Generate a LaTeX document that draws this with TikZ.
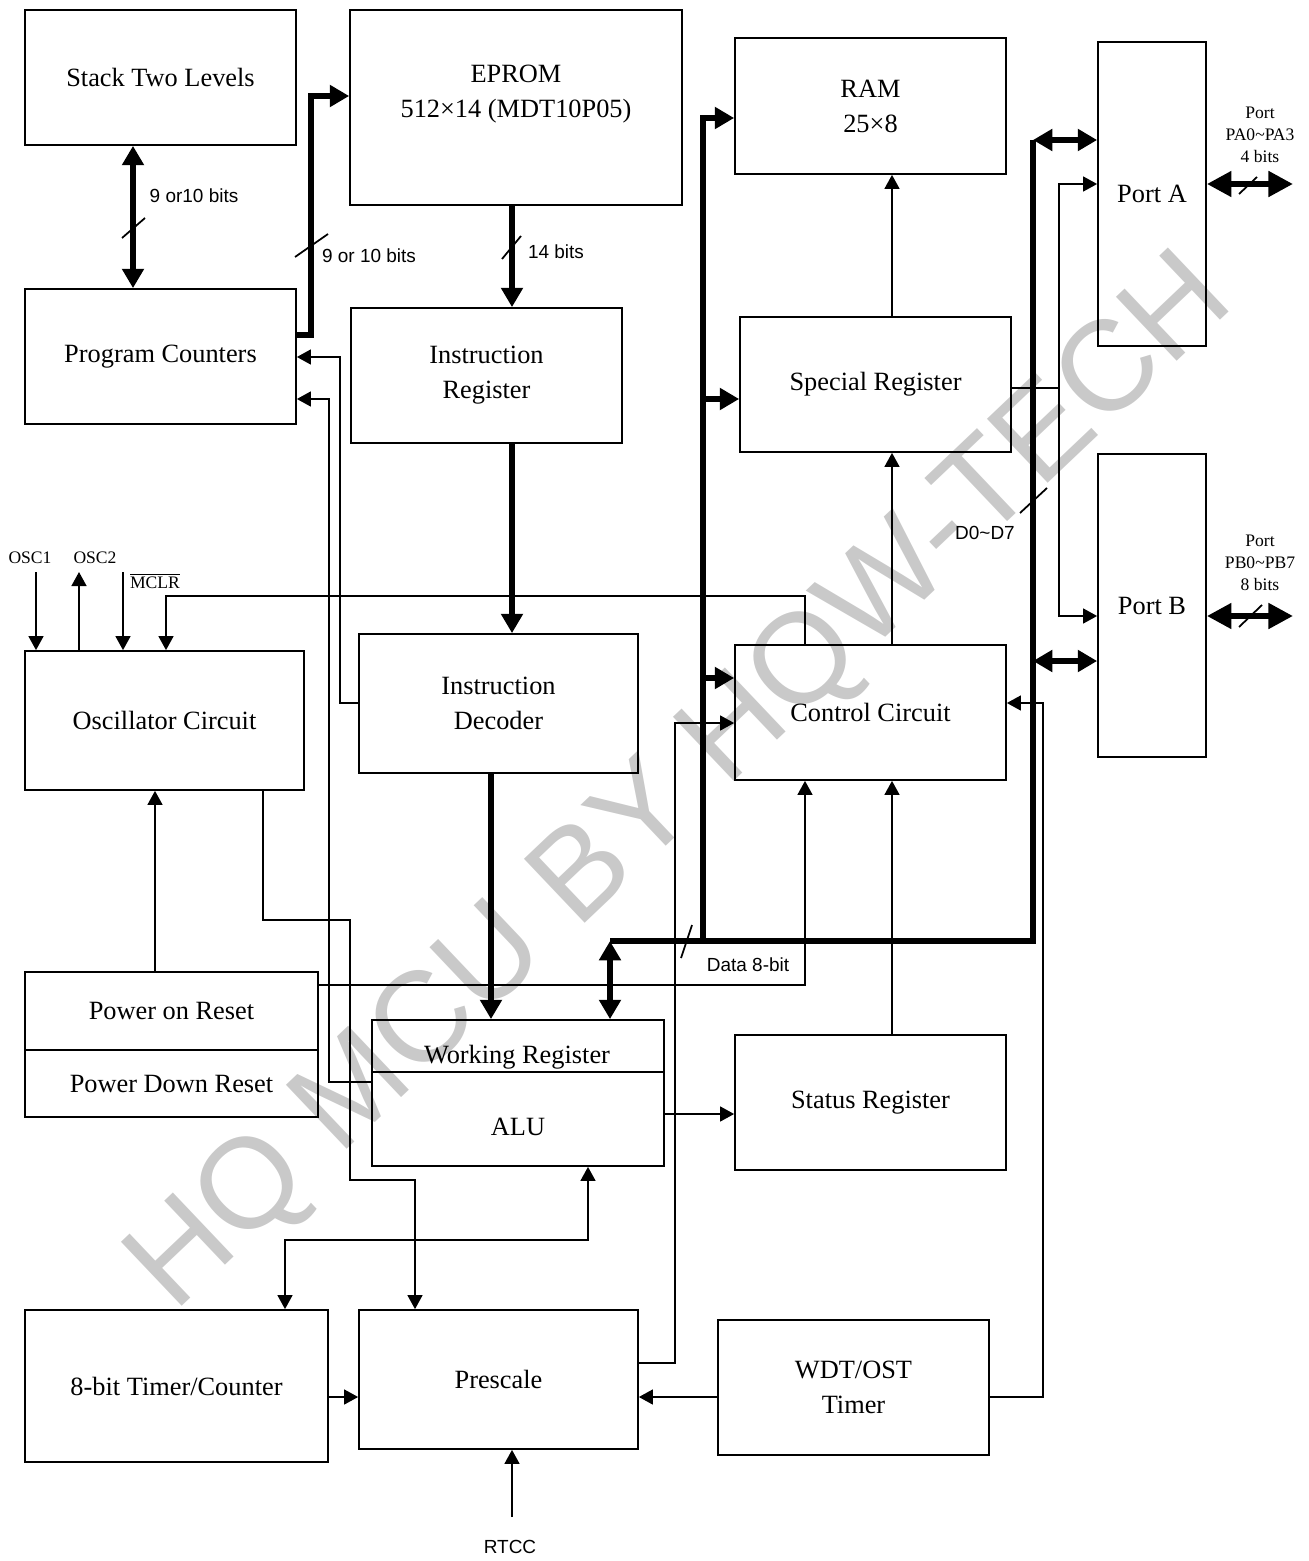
\documentclass[tikz,border=0pt]{standalone}
\usepackage{fontspec}
\setmainfont{Liberation Serif}
\newfontfamily\sansfnt{Liberation Sans}
\usetikzlibrary{arrows.meta,calc}

\tikzset{
  blk/.style={draw, line width=1pt, inner sep=0pt, align=center,
    font=\fontsize{15}{20}\selectfont},
  box/.style 2 args={blk, minimum width=#1cm, minimum height=#2cm},
  txt/.style={inner sep=0pt, align=center, font=\fontsize{15}{20}\selectfont},
  wire/.style={line width=1pt},
  bus/.style={line width=3.4pt},
  lbl/.style={inner sep=0pt, font=\sansfnt\fontsize{10.8}{13}\selectfont},
  pin/.style={inner sep=0pt, align=center, font=\fontsize{10}{12.5}\selectfont},
  BusTip/.tip={Triangle[length=11pt,width=12pt]},
  PortTip/.tip={Triangle[length=14pt,width=14pt]},
}

\begin{document}
\begin{tikzpicture}[x=0.02cm, y=-0.02cm, >={Triangle[length=8pt,width=8.5pt]}]
    \useasboundingbox (0,0) rectangle (1308,1561);

    % watermark
    \node[rotate=43.5, text=black!21, inner sep=0pt,
      font=\sansfnt\fontsize{73}{73}\selectfont] (wm) at (683,785) {HQ MCU BY HQW-TECH};

    % blocks
    \node[box={5.42}{2.70}] (stack) at (160.5,77.5) {Stack Two Levels};
    \node[box={6.64}{3.90}] (eprom) at (516,107.5) {};
    \node[txt] (epromtxt) at (516,94) {EPROM\\512×14 (MDT10P05)};
    \node[box={5.42}{2.72}] (ram) at (870.5,106) {RAM\\25×8};
    \node[box={2.16}{6.08}] (porta) at (1152,194) {Port A};
    \node[box={5.42}{2.70}] (pc) at (160.5,356.5) {Program Counters};
    \node[box={5.42}{2.70}] (ir) at (486.5,375.5) {Instruction\\Register};
    \node[box={5.42}{2.70}] (spec) at (875.5,384.5) {Special Register};
    \node[box={2.16}{6.06}] (portb) at (1152,605.5) {Port B};
    \node[box={5.58}{2.78}] (osc) at (164.5,720.5) {Oscillator Circuit};
    \node[box={5.58}{2.78}] (dec) at (498.5,703.5) {Instruction\\Decoder};
    \node[box={5.42}{2.70}] (ctrl) at (870.5,712.5) {Control Circuit};
    \node[box={5.86}{1.56}] (pon) at (171.5,1011) {Power on Reset};
    \node[box={5.86}{1.34}] (pdn) at (171.5,1083.5) {Power Down Reset};
    \node[box={5.84}{1.04}] (work) at (518,1046) {};
    \node[txt] (worktxt) at (517,1057) {Working Register};
    \node[box={5.84}{1.88}] (alu) at (518,1119) {};
    \node[txt] (alutxt) at (518,1127) {ALU};
    \node[box={5.42}{2.70}] (stat) at (870.5,1102.5) {Status Register};
    \node[box={6.06}{3.04}] (timer) at (176.5,1386) {8-bit Timer/Counter};
    \node[box={5.58}{2.78}] (pre) at (498.5,1379.5) {Prescale};
    \node[box={5.42}{2.70}] (wdt) at (853.5,1387.5) {WDT/OST\\Timer};

    % program path
    \draw[bus, BusTip-BusTip] (stack.south -| 133,0) -- (pc.north -| 133,0);
    \draw[wire] (122,238) -- (145,218);
    \node[lbl] (lstack) at (194,196) {9 or10 bits};
    \draw[bus, -BusTip] (pc.east |- 0,335) -| (311,96) -- (eprom.west |- 0,96);
    \draw[wire] (295,257) -- (328,234);
    \node[lbl] (lpc) at (369,256) {9 or 10 bits};
    \draw[bus, -BusTip] (eprom.south -| 512,0) -- (ir.north -| 512,0);
    \draw[wire] (502,259) -- (521,236);
    \node[lbl] (lir) at (556,252) {14 bits};
    \draw[bus, -BusTip] (ir.south -| 512,0) -- (dec.north -| 512,0);
    \draw[bus, -BusTip] (dec.south -| 491,0) -- (work.north -| 491,0);

    % returns to program counters
    \draw[wire, ->] (dec.west |- 0,703) -| (340,357) -- (pc.east |- 0,357);
    \draw[wire, ->] (alu.west |- 0,1082) -| (329,399) -- (pc.east |- 0,399);

    % oscillator pins
    \node[pin] (losc1) at (30,558) {OSC1};
    \node[pin] (losc2) at (95,558) {OSC2};
    \node[pin] (lmclr) at (155,581) {$\overline{\hbox{MCLR}}$};
    \draw[wire, ->] (36,572) -- (osc.north -| 36,0);
    \draw[wire, ->] (osc.north -| 79,0) -- (79,572);
    \draw[wire, ->] (123,572) -- (osc.north -| 123,0);
    \draw[wire, ->] (ctrl.north -| 805,0) |- (166,596) -- (osc.north -| 166,0);

    % clock and reset
    \draw[wire, ->] (pon.north -| 155,0) -- (osc.south -| 155,0);
    \draw[wire, ->] (pon.east |- 0,985) -| (ctrl.south -| 805,0);
    \draw[wire, ->] (osc.south -| 263,0) |- (350,920) |- (415,1180) -- (pre.north -| 415,0);

    % control column
    \draw[wire, ->] (stat.north -| 892,0) -- (ctrl.south -| 892,0);
    \draw[wire, ->] (ctrl.north -| 892,0) -- (spec.south -| 892,0);
    \draw[wire, ->] (spec.north -| 892,0) -- (ram.south -| 892,0);
    \draw[wire, ->] (alu.east |- 0,1114) -- (stat.west |- 0,1114);
    \draw[wire, <->] (alu.south -| 588,0) |- (285,1240) -- (timer.north -| 285,0);

    % timers
    \draw[wire, ->] (timer.east |- 0,1397) -- (pre.west |- 0,1397);
    \draw[wire, ->] (wdt.west |- 0,1397) -- (pre.east |- 0,1397);
    \draw[wire, ->] (pre.east |- 0,1363) -| (675,723) -- (ctrl.west |- 0,723);
    \draw[wire, ->] (wdt.east |- 0,1397) -| (1043,703) -- (ctrl.east |- 0,703);
    \node[lbl] (lrtcc) at (510,1547) {RTCC};
    \draw[wire, ->] (512,1517) -- (pre.south -| 512,0);

    % data bus
    \coordinate (dbl) at (610,941);
    \coordinate (dbm) at (703,941);
    \coordinate (dbr) at (1033,941);
    \coordinate (dbt) at (1033,140);
    \draw[bus] (dbl) -- (dbr) -- (dbt);
    \draw[bus, BusTip-BusTip] (dbl) -- (work.north -| dbl);
    \draw[bus, -BusTip] (dbm) |- (ram.west |- 0,118);
    \draw[bus, -BusTip] (703,399) -- (spec.west |- 0,399);
    \draw[bus, -BusTip] (703,678) -- (ctrl.west |- 0,678);
    \draw[bus, BusTip-BusTip] (dbt) -- (porta.west |- dbt);
    \draw[bus, BusTip-BusTip] (1033,661) -- (portb.west |- 0,661);
    \draw[wire] (681,958) -- (692,925);
    \node[lbl] (ldata) at (748,965) {Data 8-bit};

    % special register to ports
    \draw[wire, ->] (spec.east |- 0,388) -| (1059,184) -- (porta.west |- 0,184);
    \draw[wire, ->] (1059,388) |- (portb.west |- 0,616);
    \draw[wire] (1020,513) -- (1047,488);
    \node[lbl] (ld07) at (985,533) {D0\textasciitilde D7};

    % external ports
    \draw[bus, PortTip-PortTip] (porta.east |- 0,184) -- (1293,184);
    \draw[wire] (1239,194) -- (1257,177);
    \node[pin] (lporta) at (1260,135) {Port\\PA0\textasciitilde PA3\\4 bits};
    \draw[bus, PortTip-PortTip] (portb.east |- 0,616) -- (1293,616);
    \draw[wire] (1239,627) -- (1262,605);
    \node[pin] (lportb) at (1260,563) {Port\\PB0\textasciitilde PB7\\8 bits};
\end{tikzpicture}
\end{document}
